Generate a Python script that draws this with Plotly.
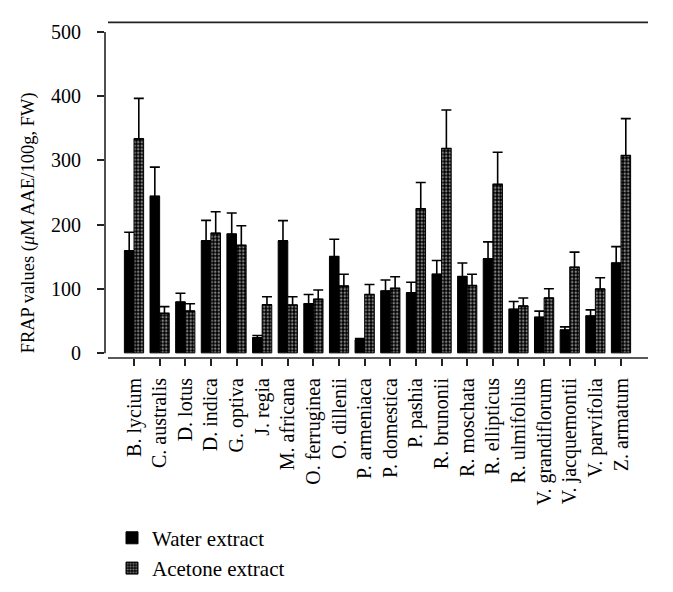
import plotly.graph_objects as go

categories = ["B. lycium", "C. australis", "D. lotus", "D. indica", "G. optiva", "J. regia",
              "M. africana", "O. ferruginea", "O. dillenii", "P. armeniaca", "P. domestica",
              "P. pashia", "R. brunonii", "R. moschata", "R. ellipticus", "R. ulmifolius",
              "V. grandiflorum", "V. jacquemontii", "V. parvifolia", "Z. armatum"]

water = [159, 244, 79, 174.5, 185, 23.5, 174.5, 76.5, 150, 20, 96.5, 93.5, 122.5, 119, 146.5, 68, 55.5, 35.5, 57.5, 140]
water_err_top = [188, 289.5, 93, 206.5, 218, 27, 206, 91, 177, 22.5, 113.5, 110, 144, 140, 173, 80, 65, 40.5, 67, 165.5]
acetone = [333.5, 61.5, 65, 186.5, 167.5, 75, 74.5, 83.5, 104, 91, 100.5, 224.5, 318.5, 105, 262.5, 73, 85.5, 133.5, 99.5, 307.5]
acetone_err_top = [396.5, 72, 76.5, 220, 198, 87.5, 87.5, 98, 122.5, 106.5, 118.5, 265.5, 378.5, 122.5, 312.5, 85.5, 100, 157, 117, 365]

water_err = [t - v for t, v in zip(water_err_top, water)]
acetone_err = [t - v for t, v in zip(acetone_err_top, acetone)]

y_ticks = [0, 100, 200, 300, 400, 500]

FONT = "Liberation Serif, Times New Roman, serif"
LINE = "#222222"

fig = go.Figure()
fig.add_trace(go.Bar(
    name="Water extract", x=categories, y=water,
    marker=dict(color="black", line=dict(color="black", width=1)),
    error_y=dict(type="data", array=water_err, arrayminus=[0] * len(water), symmetric=False,
                 color="black", thickness=1.6, width=5),
))
fig.add_trace(go.Bar(
    name="Acetone extract", x=categories, y=acetone,
    marker=dict(color="black", line=dict(color="black", width=1),
                pattern=dict(shape=".", fgcolor="white", bgcolor="black", size=3.5, solidity=0.4)),
    error_y=dict(type="data", array=acetone_err, arrayminus=[0] * len(acetone), symmetric=False,
                 color="black", thickness=1.6, width=5),
))

W, H = 673, 592
L, R, T, B = 97, 33, 24, 229
pw, ph = W - L - R, H - T - B
SP = (613 - 126) / 19.0

def px(xp):
    return (xp - L) / pw

def py(yp):
    return (H - B - yp) / ph

shapes = [
    dict(type="line", xref="paper", yref="paper", x0=0, x1=0, y0=py(358), y1=1,
         line=dict(color=LINE, width=1.6)),
    dict(type="line", xref="paper", yref="paper", x0=px(100), x1=px(640), y0=0, y1=0,
         line=dict(color=LINE, width=1.6)),
    dict(type="line", xref="paper", yref="paper", x0=px(100), x1=px(640), y0=py(14), y1=py(14),
         line=dict(color=LINE, width=1.6)),
    dict(type="line", xref="paper", yref="paper", x0=px(660), x1=px(660), y0=py(358), y1=py(23),
         line=dict(color=LINE, width=1.2)),
]

fig.update_layout(
    width=W, height=H,
    margin=dict(l=L, r=R, t=T, b=B),
    paper_bgcolor="white", plot_bgcolor="white",
    barmode="group", bargap=0.25, bargroupgap=0,
    font=dict(family=FONT, color="black"),
    shapes=shapes,
    showlegend=True,
    legend=dict(x=px(104), xanchor="left", y=py(529), yanchor="top",
                font=dict(family=FONT, size=21, color="black"),
                tracegroupgap=0, itemwidth=30, bgcolor="rgba(0,0,0,0)"),
    annotations=[dict(text="FRAP values (<i>μ</i>M AAE/100g, FW)", xref="paper", yref="paper",
                      x=px(20), y=py(223), xanchor="center", yanchor="middle", textangle=-90,
                      showarrow=False, font=dict(family=FONT, size=18.5, color="black"))],
)
fig.update_xaxes(
    type="category", range=[(L - 126) / SP, (640 - 126) / SP],
    showline=False, showgrid=False, zeroline=False,
    ticks="outside", ticklen=7, tickwidth=1.5, tickcolor=LINE, ticklabelstandoff=4,
    tickangle=-90, tickfont=dict(family=FONT, size=20, color="black"),
)
fig.update_yaxes(
    range=[-8, 500], tickvals=y_ticks,
    showline=False, showgrid=False, zeroline=False,
    ticks="outside", ticklen=7, tickwidth=1.5, tickcolor=LINE, ticklabelstandoff=12,
    tickfont=dict(family=FONT, size=20, color="black"),
)

fig.write_html("out.html")
